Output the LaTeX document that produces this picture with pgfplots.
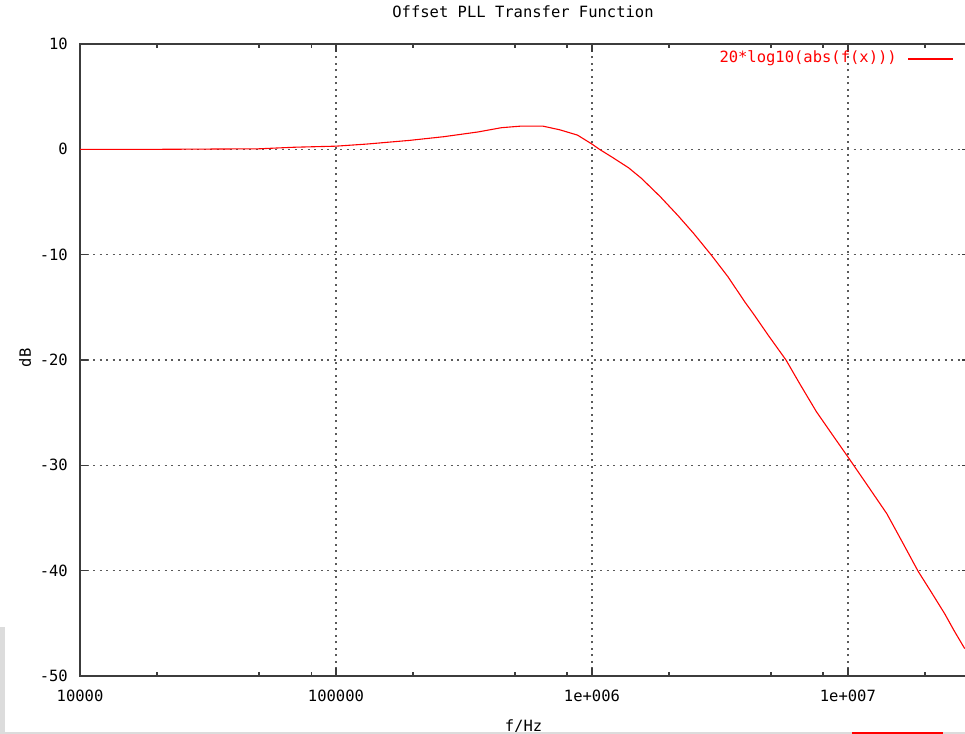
\documentclass[border=0pt]{standalone}
\usepackage{fontspec}
\setmainfont{DejaVu Sans Mono}
\usepackage{pgfplots}
\pgfplotsset{compat=1.18}

\newcommand{\gpfont}{\fontsize{15.5bp}{18bp}\selectfont}
\definecolor{gpgrid}{RGB}{90,90,90}
\definecolor{gpaxis}{RGB}{60,60,60}
\definecolor{shotgray}{RGB}{220,220,220}

\begin{document}
\begin{tikzpicture}[font=\gpfont]
\path[use as bounding box, clip] (0,0) rectangle (965bp,734bp);

\begin{axis}[
    scale only axis,
    width=890bp, height=632bp,
    at={(80bp,58bp)}, anchor=south west,
    xmode=log,
    xmin=1e4, xmax=3e7,
    ymin=-50, ymax=10,
    xtick={1e4,1e5,1e6,1e7},
    xticklabels={10000,100000,1e+006,1e+007},
    minor xtick={2e4,5e4,8e4,2e5,5e5,8e5,2e6,5e6,8e6,2e7},
    ytick={-50,-40,-30,-20,-10,0,10},
    yticklabels={-50,-40,-30,-20,-10,0,10},
    tick align=inside,
    major tick length=8bp, minor tick length=4bp,
    xmajorgrids, ymajorgrids,
    grid style={gpgrid, line width=1.2bp, dash pattern=on 2bp off 4.5bp},
    axis line style={gpaxis, line width=1.3bp},
    tick style={gpaxis, line width=1.3bp},
    every tick label/.append style={font=\gpfont, inner sep=0pt},
    xticklabel style={anchor=base, yshift=-26bp},
    yticklabel style={anchor=east, xshift=-12bp},
    title={Offset PLL Transfer Function},
    title style={at={(axis description cs:0.5,1)}, anchor=base,
                 yshift=21bp, xshift=-2bp, inner sep=0pt, font=\gpfont},
    xlabel={f/Hz},
    xlabel style={at={(axis description cs:0.5,0)}, anchor=base,
                  yshift=-55bp, xshift=-1.5bp, inner sep=0pt, font=\gpfont},
    ylabel={dB},
    % the label is turned by 90 degrees, so its own yshift moves it left
    ylabel style={at={(axis description cs:0,0.5)}, anchor=center,
                  yshift=55bp, xshift=2bp, inner sep=0pt, font=\gpfont},
]

\addplot[red, line width=1.1bp] coordinates {
(1e4,0) (2e4,0) (5e4,0.05) (6.9e4,0.2) (1e5,0.3) (1.32e5,0.5)
(1.94e5,0.85) (2.64e5,1.2) (3.59e5,1.65) (4.42e5,2.05) (5.25e5,2.2)
(6.44e5,2.2) (7.5e5,1.85) (8.78e5,1.35) (1e6,0.5) (1.07e6,0)
(1.2e6,-0.75) (1.39e6,-1.75) (1.56e6,-2.75) (1.85e6,-4.5) (2.17e6,-6.3)
(2.5e6,-8.0) (2.94e6,-10.1) (3.4e6,-12.1) (3.96e6,-14.5) (4.27e6,-15.6)
(4.9e6,-17.7) (5.73e6,-20.0) (6.5e6,-22.3) (7.53e6,-24.9) (8.7e6,-27.1)
(1e7,-29.2) (1.2e7,-32.0) (1.42e7,-34.6) (1.65e7,-37.5) (1.88e7,-40.05)
(2.1e7,-41.9) (2.39e7,-44.1) (2.6e7,-45.7) (2.86e7,-47.4)
};

\end{axis}

% key, as gnuplot puts it: text right-aligned, sample line to its right
\node[anchor=east, inner sep=0pt, text=red] at (897bp,676bp) {20*log10(abs(f(x)))};
\draw[red, line width=1.1bp] (908bp,675bp) -- (953bp,675bp);

% screenshot edges
\fill[shotgray] (0bp,0bp) rectangle (965bp,2.3bp);
\fill[shotgray] (0bp,0bp) rectangle (5bp,107bp);
\fill[red] (852bp,0bp) rectangle (943bp,2.3bp);
\end{tikzpicture}
\end{document}
